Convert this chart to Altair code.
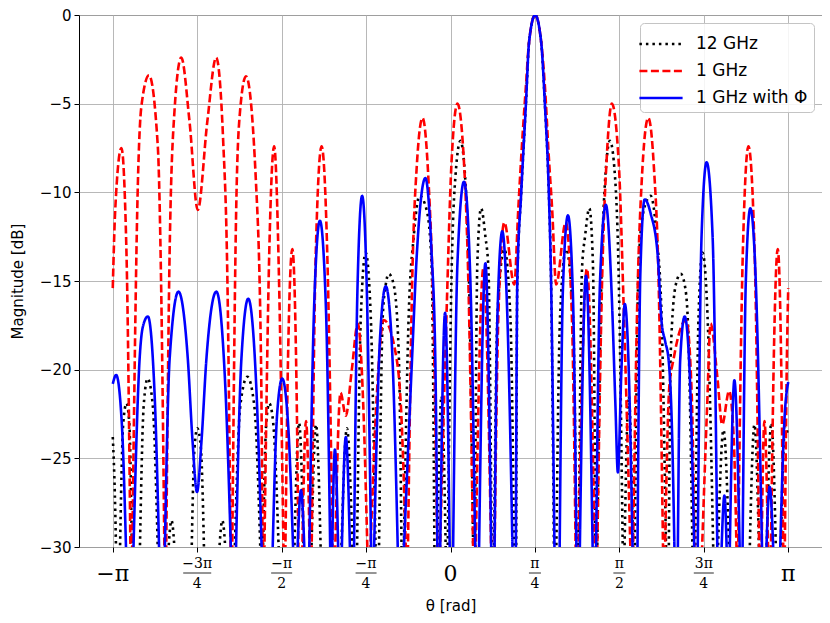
import altair as alt
import pandas as pd

N = None  # the curve falls below -30 dB here (path break)

# theta in degrees (axis is labelled in radians), magnitude in dB
pts_12ghz = [
    (-180.0, -23.8), (-178.9, -27), (-178.1, -31), N,
    (-176.3, -31), (-174.4, -23), (-172.7, -21.9), (-171.2, -23), (-169.7, -31), N,
    (-165.7, -31), (-163.5, -22), (-161.4, -20.5), (-158.7, -22), (-155.8, -31), N,
    (-150.8, -31), (-148.7, -28.5), (-146.6, -31), N,
    (-138.1, -31), (-136.5, -24.5), (-134.9, -23.3), (-133.0, -24.5), (-131.2, -31), N,
    (-123.7, -31), (-121.6, -28.5), (-119.5, -31), N,
    (-115.2, -31), (-112.0, -22), (-108.3, -20.4), (-104.6, -22), (-101.1, -31), N,
    (-100.1, -31), (-98.2, -23), (-96.6, -21.9), (-94.5, -23), (-91.3, -31), N,
    (-83.4, -31), (-80.7, -23.0), (-78.1, -31), N,
    (-74.3, -31), (-71.7, -23.1), (-69.0, -31), N,
    (-58.4, -31), (-55.2, -23.3), (-52.0, -31), N,
    (-49.9, -31), (-47.8, -17), (-45.2, -13.4), (-42.5, -17), (-39.8, -31), N,
    (-38.2, -31), (-36.1, -17), (-34.5, -15.2), (-32.9, -14.6), (-30.3, -15.2), (-27.6, -19), (-26.0, -31), N,
    (-25.0, -31), (-22.3, -17), (-19.6, -12.5), (-16.5, -10.2), (-12.7, -11), (-10.1, -14), (-8.5, -31), N,
    (-7.2, -31), (-4.8, -21.5), (-2.4, -31), N,
    (-1.6, -31), (0.5, -15), (2.7, -9), (5.3, -7.1), (8.0, -9.5), (10.1, -16), (12.2, -31), N,
    (13.0, -31), (14.3, -14), (16.3, -10.9), (18.6, -12.5), (20.2, -14.3), (22.0, -31), N,
    (23.1, -31), (25.0, -17), (28.7, -13.2), (31.9, -17), (34.0, -31), N,
    (35.0, -31), (35.6, -15), (37.7, -10), (40.2, -5), (41.9, -1.5), (45.1, 0),
    (48.3, -1.5), (50.3, -5), (52.4, -10), (53.6, -15), (55.2, -31), N,
    (56.3, -31), (58.4, -17), (61.6, -13.2), (65.3, -17), (67.2, -31), N,
    (68.3, -31), (70.1, -14.3), (71.7, -12.5), (74.0, -10.9), (75.9, -14), (77.3, -31), N,
    (78.1, -31), (80.2, -16), (82.3, -9.5), (85.0, -7.1), (87.6, -9), (89.7, -15), (91.9, -31), N,
    (92.6, -31), (95.0, -21.5), (97.4, -31), N,
    (98.2, -31), (100.3, -14), (103.0, -11), (106.7, -10.2), (109.9, -12.5), (112.5, -17), (115.0, -31), N,
    (116.3, -31), (117.4, -19), (120.1, -15.2), (122.7, -14.6), (124.8, -15.2), (126.4, -17), (129.1, -31), N,
    (130.4, -31), (132.2, -17), (134.3, -13.4), (137.0, -17), (140.2, -31), N,
    (142.3, -31), (145.5, -23.4), (148.7, -31), N,
    (159.3, -31), (162.0, -23.1), (164.6, -31), N,
    (168.3, -31), (171.0, -23.0), (173.6, -31), N,
    (175.8, -31), (178.4, -23.2), (180.0, -23.8),
]

pts_1ghz = [
    (-180.0, -15.4), (-178.7, -11.0), (-175.4, -7.5), (-172.7, -13.4), (-170.5, -31), N,
    (-169.7, -31), (-166.6, -9.4), (-164.8, -5.2), (-160.7, -3.4), (-156.0, -7.4), (-154.2, -15.4), (-152.4, -31), N,
    (-151.6, -31), (-149.7, -13.4), (-147.1, -5.4), (-143.5, -2.4), (-139.1, -6.0), (-134.7, -11.0),
    (-129.6, -6.0), (-124.9, -2.4), (-121.2, -7), (-118.9, -15), (-117.1, -31), N,
    (-116.4, -31), (-114.3, -11.4), (-112.6, -6.0), (-109.0, -3.45), (-103.7, -9.4), (-101.0, -19.4), (-100.1, -31), N,
    (-99.3, -31), (-96.6, -13.4), (-94.0, -7.4), (-91.3, -15.4), (-88.9, -31), N,
    (-88.1, -31), (-86.6, -19.4), (-84.3, -13.2), (-82.0, -21.4), (-81.0, -31), N,
    (-79.1, -31), (-77.0, -22.9), (-74.9, -31), N,
    (-74.1, -31), (-71.8, -13.4), (-68.7, -7.4), (-65.7, -13.4), (-62.7, -31), N,
    (-61.6, -31), (-58.6, -21.3), (-55.8, -22.6), (-52.6, -20.0), (-49.4, -17.4), (-46.5, -22), (-44.1, -31), N,
    (-43.0, -31), (-39.3, -21.5), (-35.6, -17.2), (-28.7, -19.4), (-26.0, -23), (-23.6, -31), N,
    (-22.8, -31), (-20.5, -15.4), (-17.9, -8.4), (-14.9, -5.8), (-11.7, -9.4), (-9.0, -17.4), (-6.9, -31), N,
    (-5.8, -31), (-2.1, -16.8), (0.5, -8.4), (3.7, -5.0), (6.9, -7.8), (9.6, -15.4), (12.2, -31), N,
    (13.3, -31), (17.5, -14.3), (21.8, -31), N,
    (23.4, -31), (25.5, -17), (28.7, -11.7), (34.0, -15.2), (36.1, -11), (37.7, -8), (40.2, -4),
    (41.9, -1.5), (45.1, 0), (48.3, -1.5), (50.3, -4), (52.4, -8), (54.2, -11), (56.3, -15.2),
    (61.4, -11.7), (64.7, -17), (66.8, -31), N,
    (68.0, -31), (72.7, -14.3), (77.0, -31), N,
    (78.1, -31), (80.7, -15.4), (83.4, -7.8), (86.0, -5.0), (89.7, -8.4), (92.4, -16.8), (96.1, -31), N,
    (97.2, -31), (99.3, -17.4), (101.9, -9.4), (105.4, -5.8), (108.3, -8.4), (111.0, -15.4), (113.4, -31), N,
    (114.2, -31), (116.6, -21), (118.9, -19.4), (125.6, -17.2), (128.6, -21.5), (130.1, -31), N,
    (133.8, -31), (136.8, -22), (138.6, -17.4), (142.3, -20.5), (144.8, -23.1), (148.5, -21.2), (151.0, -24), (152.6, -31), N,
    (153.2, -31), (155.8, -13.4), (158.8, -7.4), (162.1, -13.4), (164.6, -31), N,
    (165.7, -31), (167.3, -22.9), (169.4, -31), N,
    (170.7, -31), (172.3, -19.4), (174.4, -13.2), (176.3, -20), (177.4, -31), N,
    (178.1, -31), (179.2, -20), (180.0, -15.4),
]

pts_1ghz_phi = [
    (-180.0, -20.8), (-178.2, -20.3), (-175.2, -23), (-172.7, -31), N,
    (-169.2, -31), (-165.7, -19.4), (-164.0, -17.6), (-161.3, -17.0), (-157.7, -21.4), (-155.1, -31), N,
    (-152.4, -31), (-149.7, -19.4), (-145.0, -15.6), (-140.0, -19.4), (-137.5, -24), (-135.1, -26.9),
    (-132.7, -24), (-130.1, -19.4), (-124.8, -15.6), (-120.0, -21), (-116.8, -31), N,
    (-114.5, -31), (-111.5, -19.5), (-107.8, -16.0), (-103.5, -21), (-100.4, -31), N,
    (-95.0, -31), (-92.4, -22.5), (-89.7, -20.5), (-86.6, -23), (-83.6, -31), N,
    (-81.8, -31), (-79.7, -26.8), (-77.6, -31), N,
    (-75.4, -31), (-72.7, -16.5), (-69.6, -11.6), (-66.4, -16.5), (-64.0, -31), N,
    (-63.2, -31), (-61.6, -24.5), (-59.7, -31), N,
    (-58.1, -31), (-55.8, -23.8), (-53.4, -31), N,
    (-51.5, -31), (-49.6, -15.5), (-47.1, -10.2), (-44.6, -15.5), (-42.2, -31), N,
    (-40.9, -31), (-37.7, -18.5), (-34.5, -15.3), (-31.3, -18.5), (-27.9, -31), N,
    (-25.2, -31), (-20.5, -19.4), (-17.9, -13.4), (-13.4, -9.2), (-10.1, -13.4), (-8.1, -19.4), (-6.9, -31), N,
    (-5.6, -31), (-2.9, -16.8), (-0.3, -31), N,
    (1.3, -31), (3.7, -14), (7.2, -9.4), (10.6, -15), (13.3, -31), N,
    (15.1, -31), (18.6, -14.0), (21.8, -31), N,
    (23.4, -31), (25.0, -17), (27.6, -12.2), (30.3, -17), (33.2, -31), N,
    (34.8, -31), (35.6, -15), (37.7, -10), (40.2, -5), (41.9, -1.5), (45.1, 0),
    (48.3, -1.5), (50.3, -5), (52.4, -10), (53.6, -15), (55.5, -31), N,
    (58.1, -31), (59.9, -15.5), (62.6, -11.3), (65.3, -16), (67.2, -31), N,
    (68.8, -31), (72.2, -14.7), (75.9, -31), N,
    (77.5, -31), (79.7, -15), (82.8, -10.7), (86.0, -16), (87.9, -22), (89.2, -25.8), (91.1, -20),
    (92.9, -16.3), (95.0, -20), (97.2, -31), N,
    (99.6, -31), (101.2, -14.5), (103.5, -10.4), (106.7, -11.2), (110.4, -13.5), (112.5, -17.3),
    (114.4, -18.4), (116.3, -19.5), (118.2, -24), (119.5, -31), N,
    (121.1, -31), (122.4, -19.5), (124.8, -17.0), (127.4, -20), (130.1, -31), N,
    (131.7, -31), (133.8, -12.5), (136.5, -8.3), (139.7, -12.5), (142.3, -31), N,
    (144.2, -31), (146.0, -27.1), (147.4, -31), N,
    (148.7, -31), (151.3, -20.6), (154.3, -31), N,
    (155.6, -31), (157.4, -15), (159.8, -10.9), (162.7, -15), (166.2, -31), N,
    (168.1, -31), (170.1, -26.6), (172.3, -31), N,
    (175.5, -31), (177.9, -23), (180.0, -20.7),
]

series_names = ["12 GHz", "1 GHz", "1 GHz with Φ"]
series_colors = ["#000000", "#ff0000", "#0000ff"]
series_dash = [[2.5, 4], [8, 3.5], [1, 0]]

tick_deg = [-180, -135, -90, -45, 0, 45, 90, 135, 180]
tick_single = ["−π", "", "", "", "0", "", "", "", "π"]
tick_num = ["", "−3π", "−π", "−π", "", "π", "π", "3π", ""]
tick_den = ["", "4", "2", "4", "", "4", "2", "4", ""]
tick_barw = [0, 28, 21, 21, 0, 12, 12, 20, 0]

rows = []
i = 0
for name, pts in zip(series_names, [pts_12ghz, pts_1ghz, pts_1ghz_phi]):
    for p in pts:
        if p is None:
            rows.append({"series": name, "theta": None, "mag": None, "i": i})
        else:
            rows.append({"series": name, "theta": p[0], "mag": p[1], "i": i})
        i += 1
df = pd.DataFrame(rows)

ticks = pd.DataFrame({"theta": tick_deg, "single": tick_single, "num": tick_num,
                      "den": tick_den, "barw": tick_barw})

W, H = 743, 532
SANS = "DejaVu Sans"
SERIF = "DejaVu Serif"

xenc = alt.X("theta:Q",
             scale=alt.Scale(domain=[-198, 198], nice=False, zero=False),
             axis=alt.Axis(values=tick_deg, labels=False, title="θ [rad]",
                           titlePadding=46, tickSize=5, grid=True))
yenc = alt.Y("mag:Q",
             scale=alt.Scale(domain=[-30, 0], nice=False, zero=False),
             axis=alt.Axis(values=[0, -5, -10, -15, -20, -25, -30], title="Magnitude [dB]",
                           titlePadding=14, tickSize=5, labelPadding=3, grid=True))

leg = alt.Legend(title=None, orient="top-right", offset=8,
                 symbolType="M-1.6,0L1.6,0", symbolSize=729, symbolStrokeWidth=2.5,
                 labelFont=SANS, labelFontSize=17, rowPadding=4, padding=6,
                 strokeColor="#c4c4c4", cornerRadius=4,
                 fillColor="rgba(255,255,255,0.85)", labelOffset=20, labelLimit=300,
                 labelColor="#000000")

color = alt.Color("series:N", scale=alt.Scale(domain=series_names, range=series_colors), legend=leg)
dash = alt.StrokeDash("series:N", scale=alt.Scale(domain=series_names, range=series_dash), legend=leg)

base = alt.Chart(df)
line_layers = []
for name in series_names:
    line_layers.append(
        base.transform_filter(alt.datum.series == name)
        .mark_line(interpolate="monotone", clip=True, strokeWidth=2.6)
        .encode(x=xenc, y=yenc, color=color, strokeDash=dash, order=alt.Order("i:Q"))
    )

tb = alt.Chart(ticks)
single_lbl = tb.mark_text(font=SERIF, fontSize=22, baseline="middle", color="black").encode(
    x="theta:Q", y=alt.value(H + 27), text="single:N")
num_lbl = tb.mark_text(font=SERIF, fontSize=14, baseline="middle", color="black").encode(
    x="theta:Q", y=alt.value(H + 17), text="num:N")
den_lbl = tb.mark_text(font=SERIF, fontSize=14, baseline="middle", color="black").encode(
    x="theta:Q", y=alt.value(H + 37), text="den:N")
bars = tb.transform_filter(alt.datum.barw > 0).mark_tick(
    orient="horizontal", thickness=1.2, color="black").encode(
    x="theta:Q", y=alt.value(H + 26), size=alt.Size("barw:Q", scale=None))

chart = alt.layer(*line_layers, single_lbl, num_lbl, den_lbl, bars).properties(
    width=W, height=H,
    autosize=alt.AutoSizeParams(type="none"),
    padding={"left": 71, "top": 7, "right": 0, "bottom": 68},
).configure_view(stroke="#000000", strokeWidth=1).configure_axis(
    gridColor="#b0b0b0", gridWidth=0.9, tickColor="#000000", tickWidth=1, domain=False,
    labelFont=SANS, labelFontSize=15, labelColor="#000000",
    titleFont=SANS, titleFontSize=15, titleFontWeight="normal", titleColor="#000000",
)

chart.save("out.html", embed_options={"renderer": "svg", "actions": False})
